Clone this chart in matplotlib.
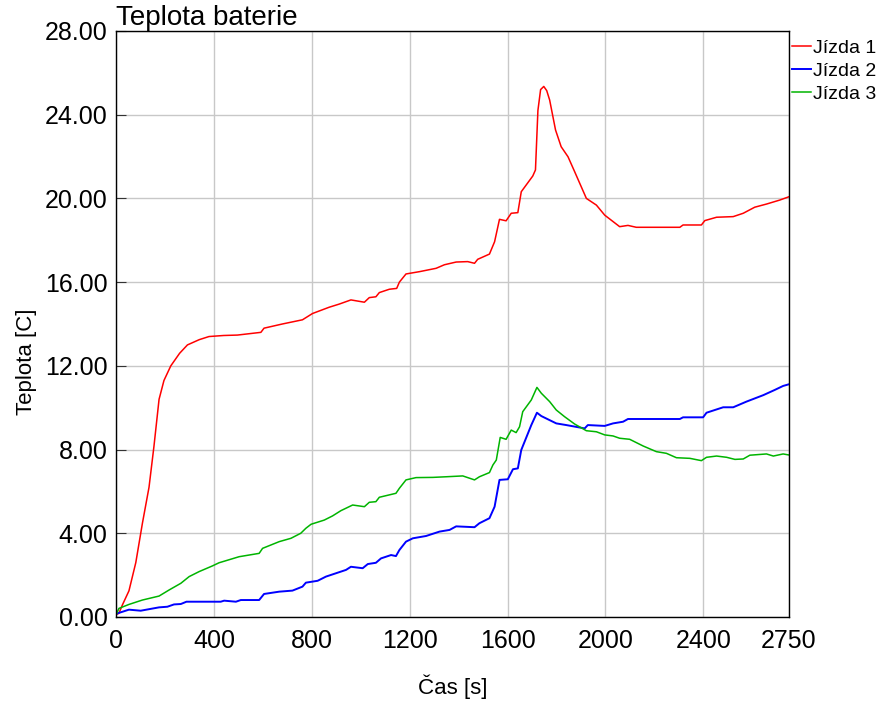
import matplotlib
matplotlib.use("Agg")
import matplotlib.pyplot as plt
from matplotlib.ticker import FormatStrFormatter

plt.rcParams['font.family'] = ['Liberation Sans', 'DejaVu Sans']

# Jizda 1 (red)
red_t = [0, 12, 26, 53, 81, 108, 135, 155, 176, 196, 224, 260, 292, 340, 380, 440, 496, 592, 605, 680,
         762, 803, 871, 912, 960, 1015, 1035, 1062, 1076, 1117, 1147, 1158, 1185, 1240, 1308, 1342, 1390,
         1437, 1465, 1478, 1526, 1547, 1567, 1594, 1615, 1642, 1656, 1703, 1714, 1724, 1735, 1748, 1760,
         1772, 1796, 1819, 1847, 1874, 1922, 1963, 1997, 2058, 2092, 2126, 2304, 2317, 2392, 2406, 2454,
         2522, 2563, 2610, 2658, 2712, 2750]
red_v = [0.1, 0.18, 0.57, 1.25, 2.6, 4.48, 6.2, 8.14, 10.4, 11.3, 12.0, 12.6, 13.0, 13.25, 13.4, 13.45,
         13.47, 13.6, 13.8, 14.0, 14.2, 14.5, 14.8, 14.95, 15.15, 15.04, 15.26, 15.3, 15.5, 15.66, 15.7,
         16.0, 16.39, 16.5, 16.66, 16.83, 16.96, 16.98, 16.9, 17.09, 17.34, 17.93, 19.0, 18.93, 19.29,
         19.32, 20.32, 21.07, 21.36, 24.2, 25.2, 25.35, 25.15, 24.7, 23.27, 22.47, 21.99, 21.28, 20.0,
         19.68, 19.2, 18.65, 18.71, 18.62, 18.62, 18.73, 18.73, 18.94, 19.1, 19.13, 19.29, 19.58, 19.73,
         19.92, 20.08]

# Jizda 2 (blue)
blue_t = [0, 53, 101, 176, 210, 237, 265, 288, 428, 442, 490, 510, 585, 605, 667, 721, 762, 776, 824, 858,
          899, 940, 960, 1008, 1029, 1062, 1083, 1124, 1144, 1158, 1185, 1213, 1267, 1322, 1363, 1390, 1465,
          1485, 1526, 1547, 1567, 1601, 1622, 1642, 1656, 1697, 1720, 1738, 1799, 1840, 1915, 1928, 1997,
          2031, 2072, 2092, 2304, 2317, 2399, 2413, 2481, 2522, 2576, 2645, 2692, 2726, 2750]
blue_v = [0.15, 0.35, 0.3, 0.46, 0.49, 0.6, 0.62, 0.73, 0.73, 0.78, 0.73, 0.81, 0.81, 1.1, 1.21, 1.26,
          1.45, 1.64, 1.73, 1.93, 2.09, 2.25, 2.4, 2.33, 2.53, 2.59, 2.8, 2.96, 2.91, 3.2, 3.6, 3.76, 3.87,
          4.08, 4.16, 4.33, 4.29, 4.48, 4.72, 5.27, 6.55, 6.58, 7.06, 7.1, 7.98, 9.17, 9.76, 9.6, 9.25,
          9.17, 9.01, 9.17, 9.13, 9.25, 9.33, 9.46, 9.46, 9.54, 9.54, 9.76, 10.02, 10.02, 10.29, 10.6,
          10.85, 11.04, 11.12]

# Jizda 3 (green)
green_t = [0, 12, 53, 108, 176, 217, 265, 299, 340, 394, 421, 503, 585, 599, 667, 715, 755, 776, 797, 851,
           885, 919, 967, 1015, 1035, 1062, 1076, 1144, 1158, 1185, 1226, 1295, 1349, 1417, 1465, 1485,
           1526, 1540, 1554, 1570, 1594, 1615, 1635, 1649, 1662, 1697, 1720, 1738, 1772, 1799, 1833, 1874,
           1922, 1963, 1997, 2031, 2058, 2099, 2154, 2208, 2249, 2290, 2345, 2392, 2413, 2454, 2495, 2529,
           2563, 2590, 2658, 2686, 2726, 2750]
green_v = [0.1, 0.41, 0.6, 0.81, 1.0, 1.29, 1.61, 1.93, 2.17, 2.44, 2.59, 2.88, 3.04, 3.28, 3.6, 3.76,
           4.0, 4.24, 4.43, 4.63, 4.83, 5.08, 5.35, 5.27, 5.48, 5.51, 5.72, 5.91, 6.15, 6.55, 6.66, 6.67,
           6.7, 6.74, 6.55, 6.7, 6.9, 7.26, 7.5, 8.58, 8.49, 8.93, 8.81, 9.09, 9.81, 10.37, 10.97, 10.69,
           10.29, 9.89, 9.57, 9.22, 8.9, 8.85, 8.7, 8.65, 8.54, 8.49, 8.17, 7.9, 7.82, 7.61, 7.58, 7.47,
           7.63, 7.69, 7.63, 7.53, 7.55, 7.73, 7.79, 7.69, 7.79, 7.74]

x_ticks = [0, 400, 800, 1200, 1600, 2000, 2400, 2750]
y_ticks = [0, 4, 8, 12, 16, 20, 24, 28]

fig = plt.figure(figsize=(8.8, 7.04), dpi=100)
ax = fig.add_axes([0.1318, 0.1236, 0.7648, 0.8324])

ax.plot(red_t, red_v, color='#ff0000', lw=1.1, label='Jízda 1')
ax.plot(blue_t, blue_v, color='#0000ff', lw=1.4, label='Jízda 2')
ax.plot(green_t, green_v, color='#00b400', lw=1.1, label='Jízda 3')

ax.set_xlim(0, 2750)
ax.set_ylim(0, 28)
ax.set_xticks(x_ticks)
ax.set_yticks(y_ticks)
ax.yaxis.set_major_formatter(FormatStrFormatter('%.2f'))
ax.grid(True, color='#c8c8c8', lw=1.0)
ax.set_axisbelow(True)
ax.tick_params(axis='y', direction='in', length=7, color='#333333', labelsize=18, pad=6)
ax.tick_params(axis='x', length=0, labelsize=18, pad=9)
for s in ax.spines.values():
    s.set_color('black')
    s.set_linewidth(1.0)

ax.set_xlabel('Čas [s]', fontsize=16, labelpad=15)
ax.set_ylabel('Teplota [C]', fontsize=16, labelpad=5)
ax.yaxis.set_label_coords(-0.118, 0.435)
ax.set_title('Teplota baterie', loc='left', fontsize=20, pad=0)

ax.legend(loc='upper left', bbox_to_anchor=(1.0, 0.991), frameon=False, fontsize=14,
          handlelength=1.0, handletextpad=0.08, labelspacing=0.28, borderpad=0.15,
          borderaxespad=0.0)

fig.savefig('out.png', dpi=100)
